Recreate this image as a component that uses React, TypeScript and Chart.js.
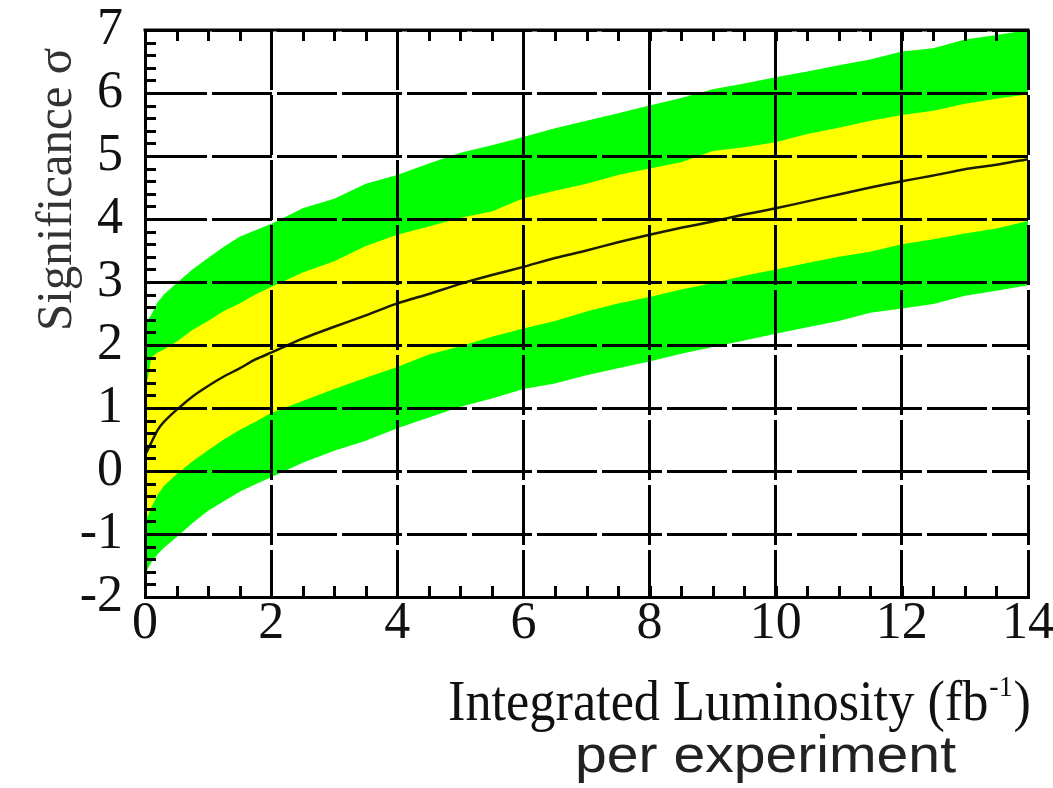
import React, { useEffect, useRef } from 'react';
import { Chart, registerables } from 'chart.js';

Chart.register(...registerables);

// Integrated luminosity (fb^-1) sample positions
const luminosity = [0, 0.05, 0.1, 0.2, 0.3, 0.5, 0.75, 1, 1.25, 1.5, 1.75, 2, 2.5, 3, 3.5, 4, 4.5, 5, 5.5, 6, 6.5, 7, 7.5, 8, 8.5, 9, 9.5, 10, 10.5, 11, 11.5, 12, 12.5, 13, 13.5, 14];

// Expected significance (central curve)
const centralSig = [0.25, 0.35, 0.45, 0.65, 0.78, 0.97, 1.18, 1.35, 1.5, 1.63, 1.77, 1.88, 2.1, 2.29, 2.47, 2.66, 2.81, 2.97, 3.11, 3.24, 3.38, 3.5, 3.63, 3.75, 3.86, 3.96, 4.07, 4.17, 4.28, 4.39, 4.5, 4.6, 4.69, 4.79, 4.86, 4.95];

// +/- 1 sigma band (yellow)
const yellowUpper = [1.3, 1.5, 1.8, 1.88, 1.93, 2.05, 2.24, 2.38, 2.54, 2.66, 2.8, 2.92, 3.15, 3.33, 3.57, 3.75, 3.88, 4.02, 4.12, 4.33, 4.45, 4.56, 4.7, 4.8, 4.9, 5.08, 5.14, 5.22, 5.35, 5.45, 5.56, 5.65, 5.72, 5.83, 5.91, 5.98];
const yellowLower = [-0.8, -0.7, -0.58, -0.38, -0.24, -0.05, 0.15, 0.33, 0.5, 0.65, 0.78, 0.92, 1.11, 1.3, 1.48, 1.65, 1.85, 1.98, 2.13, 2.26, 2.38, 2.53, 2.66, 2.76, 2.88, 2.98, 3.1, 3.2, 3.3, 3.4, 3.48, 3.6, 3.68, 3.77, 3.85, 3.97];

// +/- 2 sigma band (green)
const greenUpper = [2.3, 2.4, 2.48, 2.68, 2.8, 2.98, 3.2, 3.38, 3.56, 3.72, 3.82, 3.92, 4.17, 4.32, 4.56, 4.7, 4.88, 5.05, 5.17, 5.3, 5.44, 5.56, 5.68, 5.8, 5.92, 6.06, 6.15, 6.25, 6.34, 6.44, 6.53, 6.66, 6.71, 6.85, 6.92, 7.0];
const greenLower = [-1.65, -1.54, -1.45, -1.32, -1.22, -1.05, -0.83, -0.63, -0.48, -0.33, -0.21, -0.1, 0.13, 0.32, 0.48, 0.68, 0.85, 1.02, 1.15, 1.3, 1.39, 1.52, 1.63, 1.74, 1.86, 1.97, 2.07, 2.18, 2.28, 2.38, 2.51, 2.58, 2.65, 2.78, 2.86, 2.95];

const xTickLabels = ['0', '2', '4', '6', '8', '10', '12', '14'];
const yTickLabels = ['-2', '-1', '0', '1', '2', '3', '4', '5', '6', '7'];

const xTitle = 'Integrated Luminosity (fb';
const xTitleSup = '-1';
const xTitleEnd = ')';
const xTitle2 = 'per experiment';
const yTitle = 'Significance σ';

const SERIF = "'Liberation Serif', 'Times New Roman', serif";
const SANS = "'Liberation Sans', Arial, sans-serif";

const pts = (arr: number[]) => luminosity.map((x, i) => ({ x, y: arr[i] }));

const framePlugin = {
  id: 'frameAndTitles',
  afterDraw(chart: any) {
    const { ctx, chartArea: a } = chart;
    const xs = chart.scales.x;
    const ys = chart.scales.y;
    ctx.save();
    ctx.strokeStyle = '#000';
    ctx.lineWidth = 3;
    ctx.lineCap = 'butt';
    // top frame
    ctx.beginPath();
    ctx.moveTo(a.left - 1.5, a.top);
    ctx.lineTo(a.right + 1.5, a.top);
    ctx.stroke();
    // minor ticks on y (left)
    ctx.beginPath();
    for (let i = 0; i <= 45; i++) {
      const v = -2 + i * 0.2;
      const py = Math.round(ys.getPixelForValue(v)) + 0.5;
      ctx.moveTo(a.left, py);
      ctx.lineTo(a.left + 11, py);
    }
    // minor ticks on x (bottom and top)
    for (let i = 0; i <= 28; i++) {
      const v = i * 0.5;
      const px = Math.round(xs.getPixelForValue(v)) + 0.5;
      ctx.moveTo(px, a.bottom);
      ctx.lineTo(px, a.bottom - 11);
      ctx.moveTo(px, a.top);
      ctx.lineTo(px, a.top + 11);
    }
    ctx.stroke();

    // x title, line 1 (with superscript), fitted to width
    ctx.fillStyle = '#111';
    ctx.textBaseline = 'alphabetic';
    ctx.textAlign = 'left';
    const mainFont = `56px ${SERIF}`;
    const supFont = `30px ${SERIF}`;
    ctx.font = mainFont;
    const w1 = ctx.measureText(xTitle).width;
    const w3 = ctx.measureText(xTitleEnd).width;
    ctx.font = supFont;
    const w2 = ctx.measureText(xTitleSup).width;
    const total = w1 + w2 + w3 + 2;
    const left1 = 448, right1 = 1031, base1 = 720;
    const s1 = (right1 - left1) / total;
    ctx.save();
    ctx.translate(left1, base1);
    ctx.scale(s1, 1);
    ctx.font = mainFont;
    ctx.fillText(xTitle, 0, 0);
    ctx.font = supFont;
    ctx.fillText(xTitleSup, w1 + 1, -24);
    ctx.font = mainFont;
    ctx.fillText(xTitleEnd, w1 + w2 + 2, 0);
    ctx.restore();

    // x title, line 2
    ctx.fillStyle = '#222';
    const font2 = `52px ${SANS}`;
    ctx.font = font2;
    const wl2 = ctx.measureText(xTitle2).width;
    const left2 = 575, right2 = 956, base2 = 772;
    ctx.save();
    ctx.translate(left2, base2);
    ctx.scale((right2 - left2) / wl2, 1);
    ctx.fillText(xTitle2, 0, 0);
    ctx.restore();

    // y title, rotated
    ctx.fillStyle = '#333';
    const fontY = `50px ${SERIF}`;
    ctx.font = fontY;
    const wy = ctx.measureText(yTitle).width;
    ctx.save();
    ctx.translate(71, 331);
    ctx.rotate(-Math.PI / 2);
    ctx.scale((331 - 48) / wy, 1);
    ctx.fillText(yTitle, 0, 0);
    ctx.restore();

    ctx.restore();
  },
};

export default function App() {
  const canvasRef = useRef<HTMLCanvasElement | null>(null);

  useEffect(() => {
    const canvas = canvasRef.current;
    if (!canvas) return;
    const chart = new Chart(canvas, {
      type: 'line',
      data: {
        datasets: [
          {
            label: 'central',
            data: pts(centralSig),
            borderColor: '#1c1c00',
            borderWidth: 2.5,
            pointRadius: 0,
            fill: false,
            tension: 0.2,
          },
          {
            label: '+1 sigma',
            data: pts(yellowUpper),
            borderWidth: 0,
            borderColor: 'rgba(0,0,0,0)',
            backgroundColor: '#ffff00',
            pointRadius: 0,
            fill: '+1',
          },
          {
            label: '-1 sigma',
            data: pts(yellowLower),
            borderWidth: 0,
            borderColor: 'rgba(0,0,0,0)',
            pointRadius: 0,
            fill: false,
          },
          {
            label: '+2 sigma',
            data: pts(greenUpper),
            borderWidth: 0,
            borderColor: 'rgba(0,0,0,0)',
            backgroundColor: '#00ff00',
            pointRadius: 0,
            fill: '+1',
          },
          {
            label: '-2 sigma',
            data: pts(greenLower),
            borderWidth: 0,
            borderColor: 'rgba(0,0,0,0)',
            pointRadius: 0,
            fill: false,
          },
        ],
      },
      options: {
        responsive: false,
        animation: false,
        events: [],
        layout: { padding: { top: 30, right: 25, left: 0, bottom: 0 } },
        plugins: {
          legend: { display: false },
          tooltip: { enabled: false },
          title: { display: false },
        },
        scales: {
          x: {
            type: 'linear',
            min: 0,
            max: 14,
            afterFit: (s: any) => {
              s.height = 191;
              s.paddingLeft = 0;
              s.paddingRight = 0;
            },
            afterBuildTicks: (s: any) => {
              s.ticks = xTickLabels.map((t) => ({ value: Number(t) }));
            },
            ticks: {
              stepSize: 2,
              autoSkip: false,
              maxRotation: 0,
              padding: -4,
              color: '#111',
              font: { family: SERIF, size: 52 },
              callback: (v: any) => xTickLabels.find((t) => Number(t) === v) ?? '',
            },
            grid: {
              color: '#000',
              lineWidth: 3,
              drawTicks: false,
              z: 1,
            },
            border: {
              display: true,
              color: '#000',
              width: 3,
              dash: [60, 5],
              z: 2,
            },
          },
          y: {
            type: 'linear',
            min: -2,
            max: 7,
            afterFit: (s: any) => {
              s.width = 145;
              s.paddingTop = 0;
              s.paddingBottom = 0;
            },
            afterBuildTicks: (s: any) => {
              s.ticks = yTickLabels.map((t) => ({ value: Number(t) }));
            },
            ticks: {
              stepSize: 1,
              autoSkip: false,
              padding: 22,
              color: '#111',
              font: { family: SERIF, size: 52 },
              callback: (v: any) => yTickLabels.find((t) => Number(t) === v) ?? '',
            },
            grid: {
              color: '#000',
              lineWidth: 3,
              drawTicks: false,
              z: 1,
            },
            border: {
              display: true,
              color: '#000',
              width: 3,
              dash: [60, 5],
              z: 2,
            },
          },
        },
      },
      plugins: [framePlugin],
    } as any);
    return () => chart.destroy();
  }, []);

  return (
    <div style={{ position: 'fixed', left: 0, top: 0, width: 1053, height: 788, background: '#fff' }}>
      <canvas ref={canvasRef} width={1053} height={788} style={{ display: 'block' }} />
    </div>
  );
}
